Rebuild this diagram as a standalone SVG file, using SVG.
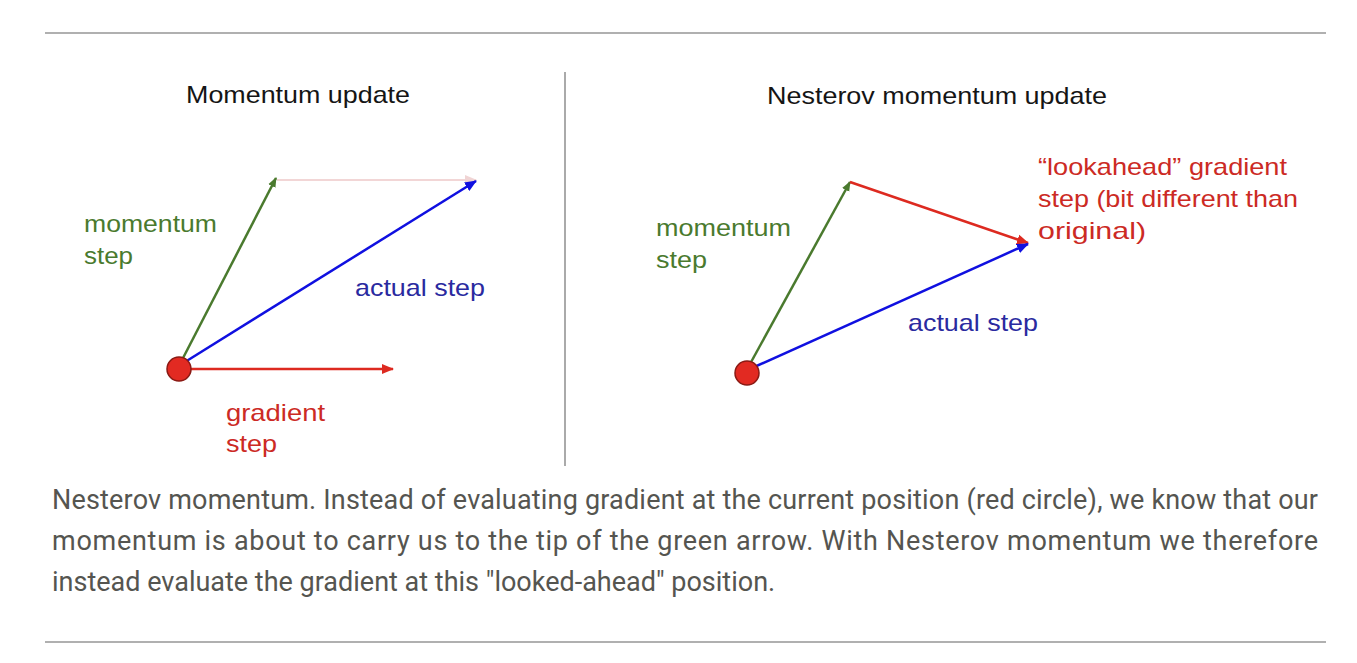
<svg xmlns="http://www.w3.org/2000/svg" width="1357" height="663" viewBox="0 0 1357 663">
<style>
.t{font-family:"Liberation Sans",Arial,sans-serif;font-size:24px}
.title{fill:#151515}
.g{fill:#4a7a2e}
.b{fill:#2a2aa0}
.r{fill:#cc2a24}
.cap{font-family:Roboto,"Liberation Sans",sans-serif;font-size:27px;fill:#555550}
.rule{stroke:#b0b0b0;stroke-width:2}
</style>
<defs>
<marker id="ag" markerWidth="10" markerHeight="10" refX="9" refY="5" orient="auto" markerUnits="userSpaceOnUse" viewBox="0 0 10 10"><path d="M0,1 L10,5 L0,9 z" fill="#4a7a2e"/></marker>
<marker id="ab" markerWidth="12" markerHeight="12" refX="11" refY="6" orient="auto" markerUnits="userSpaceOnUse" viewBox="0 0 12 12"><path d="M0,1 L12,6 L0,11 z" fill="#1010e0"/></marker>
<marker id="ar" markerWidth="12" markerHeight="12" refX="11" refY="6" orient="auto" markerUnits="userSpaceOnUse" viewBox="0 0 12 12"><path d="M0,1 L12,6 L0,11 z" fill="#dd2a20"/></marker>
<marker id="ap" markerWidth="12" markerHeight="12" refX="11" refY="6" orient="auto" markerUnits="userSpaceOnUse" viewBox="0 0 12 12"><path d="M0,1 L12,6 L0,11 z" fill="#f0d4d4"/></marker>
</defs>
<line class="rule" x1="45" y1="33" x2="1326" y2="33"/>
<line class="rule" x1="45" y1="642" x2="1326" y2="642"/>
<line x1="565" y1="72" x2="565" y2="466" stroke="#aaa" stroke-width="2"/>
<g id="connectors" fill="none">
<line x1="277" y1="180" x2="476" y2="180" stroke="#f2d6d6" stroke-width="2" marker-end="url(#ap)"/>
<line x1="182" y1="360" x2="276" y2="178" stroke="#4a7a2e" stroke-width="2.5" marker-end="url(#ag)"/>
<line x1="185" y1="362" x2="476" y2="181" stroke="#1010e0" stroke-width="2.5" marker-end="url(#ab)"/>
<line x1="190" y1="369" x2="393" y2="369" stroke="#dd2a20" stroke-width="2.5" marker-end="url(#ar)"/>
<line x1="750" y1="364" x2="850" y2="182" stroke="#4a7a2e" stroke-width="2.5" marker-end="url(#ag)"/>
<line x1="850" y1="182" x2="1028" y2="243" stroke="#dd2a20" stroke-width="2.5" marker-end="url(#ar)"/>
<line x1="752" y1="368" x2="1028" y2="244" stroke="#1010e0" stroke-width="2.5" marker-end="url(#ab)"/>
</g>
<g id="left">
<text class="t title" x="186" y="103" textLength="224" lengthAdjust="spacingAndGlyphs">Momentum update</text>
<circle cx="179" cy="369" r="12" fill="#e22a22" stroke="#8a1a14" stroke-width="1.5"/>
<text class="t g" x="84" y="232" textLength="133" lengthAdjust="spacingAndGlyphs">momentum</text>
<text class="t g" x="84" y="264" textLength="49" lengthAdjust="spacingAndGlyphs">step</text>
<text class="t b" x="355" y="296" textLength="130" lengthAdjust="spacingAndGlyphs">actual step</text>
<text class="t r" x="226" y="421" textLength="99" lengthAdjust="spacingAndGlyphs">gradient</text>
<text class="t r" x="226" y="452" textLength="51" lengthAdjust="spacingAndGlyphs">step</text>
</g>
<g id="right">
<text class="t title" x="767" y="104" textLength="340" lengthAdjust="spacingAndGlyphs">Nesterov momentum update</text>
<circle cx="747" cy="373" r="12" fill="#e22a22" stroke="#8a1a14" stroke-width="1.5"/>
<text class="t g" x="656" y="236" textLength="135" lengthAdjust="spacingAndGlyphs">momentum</text>
<text class="t g" x="656" y="268" textLength="51" lengthAdjust="spacingAndGlyphs">step</text>
<text class="t b" x="908" y="331" textLength="130" lengthAdjust="spacingAndGlyphs">actual step</text>
<text class="t r" x="1038" y="175" textLength="249" lengthAdjust="spacingAndGlyphs">“lookahead” gradient</text>
<text class="t r" x="1038" y="207" textLength="260" lengthAdjust="spacingAndGlyphs">step (bit different than</text>
<text class="t r" x="1038" y="239" textLength="108" lengthAdjust="spacingAndGlyphs">original)</text>
</g>
<g id="caption">
<text class="cap" x="52" y="509" textLength="1266" lengthAdjust="spacing">Nesterov momentum. Instead of evaluating gradient at the current position (red circle), we know that our</text>
<text class="cap" x="52" y="550" textLength="1266" lengthAdjust="spacing">momentum is about to carry us to the tip of the green arrow. With Nesterov momentum we therefore</text>
<text class="cap" x="52" y="591">instead evaluate the gradient at this "looked-ahead" position.</text>
</g>
</svg>
